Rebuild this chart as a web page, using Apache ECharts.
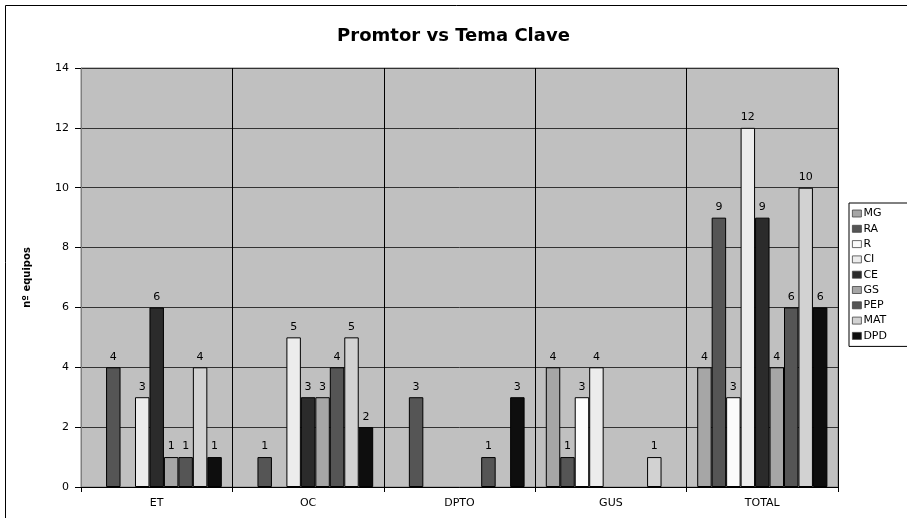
<!DOCTYPE html>
<html>
<head>
<meta charset="utf-8">
<script src="https://cdn.jsdelivr.net/npm/echarts@6/dist/echarts.min.js"></script>
<style>
html,body{margin:0;padding:0;background:#fff;}
#c{width:907px;height:518px;}
</style>
</head>
<body>
<div id="c"></div>
<script>
const categories = ['ET', 'OC', 'DPTO', 'GUS', 'TOTAL'];
const seriesNames = ['MG', 'RA', 'R', 'CI', 'CE', 'GS', 'PEP', 'MAT', 'DPD'];
const MG  = [0, 0, 0, 4, 4];
const RA  = [4, 1, 3, 1, 9];
const R   = [0, 0, 0, 3, 3];
const CI  = [3, 5, 0, 4, 12];
const CE  = [6, 3, 0, 0, 9];
const GS  = [1, 3, 0, 0, 4];
const PEP = [1, 4, 1, 0, 6];
const MAT = [4, 5, 0, 1, 10];
const DPD = [1, 2, 3, 0, 6];
const yTicks = [0, 2, 4, 6, 8, 10, 12, 14];

const values = [MG, RA, R, CI, CE, GS, PEP, MAT, DPD];
const colors = ['#a6a6a6', '#555555', '#fbfbfb', '#ececec', '#2b2b2b', '#a6a6a6', '#555555', '#d2d2d2', '#0e0e0e'];

const font = 'DejaVu Sans, Liberation Sans, Arial, sans-serif';
const chart = echarts.init(document.getElementById('c'));
chart.setOption({
  animation: false,
  backgroundColor: '#ffffff',
  title: {
    text: 'Promtor vs Tema Clave',
    left: 'center',
    top: 22,
    textStyle: { fontFamily: font, fontSize: 18, fontWeight: 'bold', color: '#000' }
  },
  graphic: [{
    type: 'rect',
    shape: { x: 5.5, y: 5.5, width: 920, height: 540 },
    style: { fill: 'none', stroke: '#000', lineWidth: 1 },
    silent: true
  }],
  legend: {
    orient: 'vertical',
    left: 849,
    top: 203,
    data: seriesNames,
    icon: 'rect',
    itemWidth: 9,
    itemHeight: 7,
    itemGap: 2.3,
    padding: [4, 40, 4, 3],
    backgroundColor: '#ffffff',
    borderColor: '#000',
    borderWidth: 1,
    borderRadius: 0,
    itemStyle: { borderColor: '#444', borderWidth: 0.8 },
    textStyle: { fontFamily: font, fontSize: 11, color: '#000', lineHeight: 13, padding: [0, 0, 0, -3] }
  },
  grid: {
    left: 81, top: 68, right: 69, bottom: 31,
    show: true,
    backgroundColor: '#c0c0c0',
    borderColor: '#808080',
    borderWidth: 1
  },
  xAxis: {
    type: 'category',
    data: categories,
    axisLine: { lineStyle: { color: '#000', width: 1 } },
    axisTick: { show: true, length: 5, lineStyle: { color: '#000' } },
    axisLabel: { fontFamily: font, fontSize: 11, color: '#000', margin: 11 },
    splitLine: { show: true, lineStyle: { color: '#000', width: 1 } }
  },
  yAxis: {
    type: 'value',
    min: yTicks[0],
    max: yTicks[yTicks.length - 1],
    interval: 2,
    name: 'nº equipos',
    nameLocation: 'middle',
    nameRotate: 90,
    nameGap: 49,
    nameTextStyle: { fontFamily: font, fontSize: 10, fontWeight: 'bold', color: '#000' },
    axisLine: { show: true, lineStyle: { color: '#808080' } },
    axisTick: { show: true, inside: false, length: 6, lineStyle: { color: '#000' } },
    axisLabel: { fontFamily: font, fontSize: 11, color: '#000', margin: 12 },
    splitLine: { show: true, lineStyle: { color: '#333', width: 1 } }
  },
  series: seriesNames.map((n, i) => ({
    name: n,
    type: 'bar',
    data: values[i].map(v => v === 0 ? null : v),
    barGap: '0%',
    barCategoryGap: '14%',
    itemStyle: { color: colors[i], borderColor: '#000', borderWidth: 1 },
    label: {
      show: true,
      position: 'top',
      distance: 5,
      fontFamily: font,
      fontSize: 11,
      color: '#000'
    }
  }))
});
</script>
</body>
</html>
